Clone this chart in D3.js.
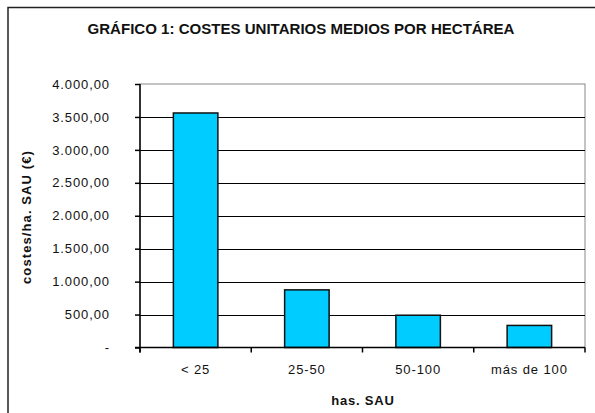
<!DOCTYPE html>
<html>
<head>
<meta charset="utf-8">
<script src="https://cdn.jsdelivr.net/npm/d3@7"></script>
<style>
  html, body { margin: 0; padding: 0; background: #fff; }
  svg { display: block; font-family: "Liberation Sans", Arial, sans-serif; }
</style>
</head>
<body>
<svg id="chart" width="595" height="413"></svg>
<script>
const categories = ["< 25", "25-50", "50-100", "más de 100"];
const values = [3560, 875, 490, 335];
const yTicks = [0, 500, 1000, 1500, 2000, 2500, 3000, 3500, 4000];
const yTickLabels = ["-", "500,00", "1.000,00", "1.500,00", "2.000,00", "2.500,00", "3.000,00", "3.500,00", "4.000,00"];
const chartTitle = "GRÁFICO 1: COSTES UNITARIOS MEDIOS POR HECTÁREA";
const xTitle = "has. SAU";
const yTitle = "costes/ha. SAU (€)";

const svg = d3.select("#chart");
const pLeft = 140, pRight = 585, pTop = 84, pBottom = 347.5;

// outer frame
svg.append("rect").attr("x", 8).attr("y", 7.5).attr("width", 600).attr("height", 420)
  .attr("fill", "#fff").attr("stroke", "#222").attr("stroke-width", 1.5);

const x = d3.scaleBand().domain(categories).range([pLeft, pRight]).paddingInner(0.6).paddingOuter(0.3);
const y = d3.scaleLinear().domain([0, 4000]).range([pBottom, pTop]);

// plot area border (gray)
svg.append("rect").attr("x", pLeft).attr("y", pTop).attr("width", pRight - pLeft).attr("height", pBottom - pTop)
  .attr("fill", "none").attr("stroke", "#888").attr("stroke-width", 1);

// gridlines
svg.append("g").selectAll("line").data(yTicks.filter(t => t > 0 && t < 4000)).join("line")
  .attr("x1", pLeft).attr("x2", pRight)
  .attr("y1", d => Math.round(y(d)) + 0.5).attr("y2", d => Math.round(y(d)) + 0.5)
  .attr("stroke", "#000").attr("stroke-width", 1.2);

// bars
svg.append("g").selectAll("rect").data(values).join("rect")
  .attr("x", (d, i) => x(categories[i]))
  .attr("y", d => y(d))
  .attr("width", x.bandwidth())
  .attr("height", d => pBottom - y(d))
  .attr("fill", "#00CCFF").attr("stroke", "#111").attr("stroke-width", 1.5);

// y axis
const yAxis = d3.axisLeft(y).tickValues(yTicks).tickSize(5).tickFormat((d, i) => yTickLabels[i]);
const gy = svg.append("g").attr("transform", `translate(${pLeft},0)`).call(yAxis);
gy.select(".domain").remove();
gy.selectAll(".tick line").attr("stroke", "#000").attr("stroke-width", 1.5);
gy.selectAll(".tick text").attr("x", -30).attr("font-size", 13).attr("letter-spacing", 0.9)
  .attr("fill", "#111").attr("font-family", "'Liberation Sans', Arial, sans-serif");
svg.append("line").attr("x1", pLeft).attr("x2", pLeft).attr("y1", pTop).attr("y2", pBottom + 5)
  .attr("stroke", "#000").attr("stroke-width", 1.5);

// x axis
const xEdges = d3.scaleLinear().domain([0, categories.length]).range([pLeft, pRight]);
svg.append("line").attr("x1", pLeft - 5).attr("x2", pRight).attr("y1", pBottom).attr("y2", pBottom)
  .attr("stroke", "#000").attr("stroke-width", 1.5);
svg.append("g").selectAll("line").data(d3.range(categories.length + 1)).join("line")
  .attr("x1", d => xEdges(d)).attr("x2", d => xEdges(d))
  .attr("y1", pBottom).attr("y2", pBottom + 5)
  .attr("stroke", "#000").attr("stroke-width", 1.5);
svg.append("g").selectAll("text").data(categories).join("text")
  .attr("x", d => x(d) + x.bandwidth() / 2)
  .attr("y", 374)
  .attr("text-anchor", "middle")
  .attr("font-size", 13).attr("letter-spacing", 0.9).attr("fill", "#111")
  .text(d => d);

// titles
svg.append("text").attr("x", 301).attr("y", 34).attr("text-anchor", "middle")
  .attr("font-size", 14).attr("font-weight", "bold").attr("fill", "#111")
  .attr("textLength", 427).attr("lengthAdjust", "spacingAndGlyphs")
  .text(chartTitle);
svg.append("text").attr("x", 363).attr("y", 405).attr("text-anchor", "middle")
  .attr("font-size", 13).attr("font-weight", "bold").attr("letter-spacing", 0.8).attr("fill", "#111")
  .text(xTitle);
svg.append("text").attr("transform", "translate(31,217) rotate(-90)").attr("text-anchor", "middle")
  .attr("font-size", 13).attr("font-weight", "bold").attr("letter-spacing", 1.1).attr("fill", "#111")
  .text(yTitle);
</script>
</body>
</html>
